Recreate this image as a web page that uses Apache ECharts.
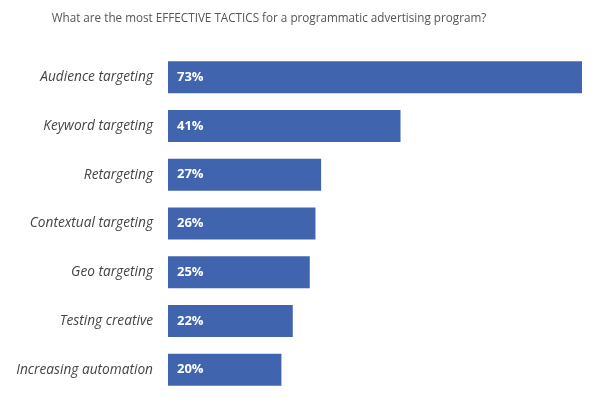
<!DOCTYPE html>
<html><head><meta charset="utf-8">
<script src="https://cdn.jsdelivr.net/npm/echarts@6/dist/echarts.min.js"></script>
<style>html,body{margin:0;padding:0;background:#fff}#c{width:600px;height:399px}</style>
</head><body><div id="c"></div>
<script>
const titleText = 'What are the most EFFECTIVE TACTICS for a programmatic advertising program?';
const categories = ['Audience targeting','Keyword targeting','Retargeting','Contextual targeting','Geo targeting','Testing creative','Increasing automation'];
const values = [73,41,27,26,25,22,20];

const chart = echarts.init(document.getElementById('c'));
chart.setOption({
  animation: false,
  title: {
    text: titleText, left: 264, textAlign: 'center', top: 8,
    textStyle: {fontFamily: 'Open Sans', fontSize: 11.7, fontWeight: 'normal', color: '#555'}
  },
  grid: {left: 168, right: 18, top: 53, bottom: 5},
  xAxis: {type: 'value', min: 0, max: 73, show: false},
  yAxis: {
    type: 'category', data: categories, inverse: true,
    axisLine: {show: false}, axisTick: {show: false},
    axisLabel: {margin: 15, fontFamily: 'Open Sans', fontStyle: 'italic', fontSize: 13.7, color: '#444'}
  },
  series: [{
    type: 'bar', data: values, barWidth: 32,
    itemStyle: {color: '#4065ae'},
    label: {show: true, position: 'insideLeft', distance: 9, formatter: '{c}%',
      fontFamily: 'Open Sans', fontWeight: 'bold', fontSize: 13, color: '#fff'}
  }]
});
</script></body></html>
